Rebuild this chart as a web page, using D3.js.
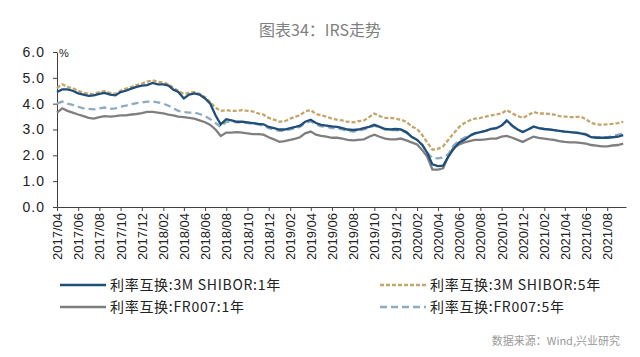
<!DOCTYPE html>
<html><head><meta charset="utf-8">
<script src="https://cdn.jsdelivr.net/npm/d3@7"></script>
<style>body{margin:0;background:#fff}svg{display:block}</style>
</head><body>
<svg id="c" width="640" height="357"></svg>
<script>
// half-monthly observation dates (month offsets from 2017/04)
const startDate = "2017-04-01";
const monthOffsets = d3.range(0, 54, 0.5);
const shibor1y = [4.45,4.55,4.55,4.5,4.4,4.35,4.3,4.32,4.38,4.42,4.35,4.32,4.45,4.5,4.58,4.65,4.7,4.72,4.8,4.75,4.75,4.7,4.55,4.45,4.2,4.35,4.4,4.35,4.2,4.0,3.55,3.2,3.4,3.35,3.3,3.3,3.28,3.25,3.22,3.2,3.1,3.05,3.0,3.0,3.05,3.1,3.15,3.3,3.38,3.25,3.18,3.15,3.12,3.1,3.05,3.0,2.98,3.0,3.05,3.1,3.18,3.1,3.02,3.0,3.02,3.0,2.9,2.72,2.6,2.4,2.1,1.65,1.58,1.6,1.95,2.25,2.5,2.6,2.75,2.85,2.9,2.95,3.02,3.05,3.15,3.35,3.15,3.0,2.9,3.0,3.12,3.05,3.02,3.0,2.98,2.95,2.92,2.9,2.88,2.85,2.8,2.7,2.68,2.68,2.68,2.7,2.72,2.78];
const shibor5y = [4.6,4.75,4.65,4.6,4.5,4.42,4.38,4.38,4.45,4.48,4.42,4.38,4.5,4.58,4.65,4.72,4.78,4.85,4.9,4.85,4.82,4.75,4.62,4.5,4.38,4.42,4.45,4.38,4.25,4.05,3.85,3.72,3.75,3.72,3.72,3.75,3.72,3.7,3.62,3.58,3.45,3.38,3.3,3.32,3.42,3.5,3.55,3.7,3.75,3.6,3.55,3.5,3.42,3.38,3.35,3.3,3.28,3.32,3.35,3.48,3.62,3.52,3.45,3.45,3.42,3.38,3.3,3.12,3.02,2.78,2.5,2.22,2.25,2.35,2.6,2.85,3.1,3.25,3.35,3.42,3.45,3.5,3.55,3.58,3.62,3.75,3.62,3.52,3.45,3.55,3.68,3.62,3.62,3.6,3.58,3.52,3.5,3.48,3.48,3.5,3.4,3.25,3.2,3.18,3.2,3.22,3.25,3.3];
const fr0071y = [3.65,3.82,3.72,3.65,3.58,3.52,3.45,3.42,3.48,3.52,3.5,3.52,3.55,3.55,3.58,3.6,3.63,3.68,3.68,3.65,3.62,3.58,3.55,3.5,3.48,3.45,3.42,3.35,3.28,3.18,3.0,2.75,2.88,2.88,2.9,2.88,2.85,2.82,2.82,2.8,2.7,2.62,2.52,2.55,2.6,2.65,2.7,2.85,2.92,2.8,2.75,2.72,2.68,2.68,2.65,2.6,2.58,2.6,2.62,2.72,2.8,2.72,2.65,2.62,2.62,2.65,2.58,2.5,2.42,2.2,1.95,1.45,1.45,1.5,1.98,2.3,2.42,2.5,2.55,2.6,2.6,2.62,2.65,2.65,2.72,2.75,2.68,2.6,2.52,2.62,2.72,2.68,2.65,2.62,2.6,2.55,2.52,2.5,2.5,2.48,2.45,2.4,2.38,2.35,2.35,2.38,2.4,2.45];
const fr0075y = [4.0,4.08,4.0,3.95,3.88,3.82,3.8,3.78,3.82,3.85,3.8,3.82,3.88,3.92,3.98,4.02,4.05,4.08,4.08,4.05,4.0,3.92,3.82,3.72,3.68,3.65,3.65,3.6,3.52,3.4,3.25,3.1,3.3,3.3,3.28,3.28,3.25,3.22,3.2,3.15,3.05,3.0,2.95,2.95,3.0,3.05,3.1,3.25,3.32,3.2,3.12,3.1,3.05,3.05,3.0,2.95,2.92,2.95,3.0,3.08,3.15,3.08,3.0,2.98,2.98,2.96,2.88,2.72,2.6,2.4,2.1,1.9,1.88,1.92,2.05,2.38,2.58,2.68,2.78,2.85,2.9,2.95,3.0,3.05,3.15,3.32,3.12,3.0,2.9,2.98,3.1,3.05,3.02,3.0,2.98,2.95,2.92,2.9,2.88,2.88,2.82,2.72,2.7,2.7,2.7,2.75,2.8,2.85];
const seriesNames = ["利率互换:3M SHIBOR:1年","利率互换:3M SHIBOR:5年","利率互换:FR007:1年","利率互换:FR007:5年"];
const yTicks = [0,1,2,3,4,5,6];
const xTickCount = 27; // 2017/04 ... 2021/08 every two months

const svg = d3.select("#c");
const t0 = d3.timeParse("%Y-%m-%d")(startDate);
const dateAt = m => { const d = d3.timeMonth.offset(t0, Math.floor(m)); return d3.timeDay.offset(d, Math.round((m%1)*30)); };
const dates = monthOffsets.map(dateAt);
const xTicks = d3.range(xTickCount).map(i => d3.timeMonth.offset(t0, i*2));

const x = d3.scaleTime().domain([t0, new Date(2021,8,24)]).range([57, 626]);
const y = d3.scaleLinear().domain([0,6]).range([207, 52]);

svg.append("text").attr("x",320).attr("y",36).attr("text-anchor","middle")
  .attr("font-family","Noto Sans CJK SC").attr("font-size",16).attr("fill","#7f7f7f").text("图表34：IRS走势");

// y axis
const ya = svg.append("g").attr("transform","translate(57,0)")
  .call(d3.axisLeft(y).tickValues(yTicks).tickFormat(d3.format(".1f")).tickSize(4).tickSizeOuter(0));
ya.select(".domain").attr("stroke","#404040");
ya.selectAll(".tick line").attr("stroke","#404040");
ya.selectAll("text").attr("font-family","Liberation Sans").attr("font-size",14).attr("fill","#222").attr("x",-12).attr("letter-spacing","1");
svg.append("text").attr("x",59).attr("y",57).attr("font-family","Liberation Sans").attr("font-size",11).attr("fill","#222").text("%");

// x axis
const xa = svg.append("g").attr("transform","translate(0,207)")
  .call(d3.axisBottom(x).tickValues(xTicks).tickFormat(d3.timeFormat("%Y/%m")).tickSize(4).tickSizeOuter(0));
xa.select(".domain").attr("stroke","#404040");
xa.selectAll(".tick line").attr("stroke","#404040");
xa.selectAll("text").attr("font-family","Liberation Sans").attr("font-size",13).attr("fill","#222")
  .attr("transform","rotate(-90)").attr("text-anchor","end").attr("x",-6).attr("y",0).attr("dy","0.35em");

const styles = [
  {c:"#1f4e79", dash:null},
  {c:"#c4a56c", dash:"4,2"},
  {c:"#7f7f7f", dash:null},
  {c:"#8fabc0", dash:"7,4"}
];
const data = [shibor1y, shibor5y, fr0071y, fr0075y];
const line = d3.line().x((d,i)=>x(dates[i])).y(d=>y(d));
const order = [2,3,1,0];
order.forEach(k=>{
  svg.append("path").datum(data[k]).attr("d",line).attr("fill","none")
    .attr("stroke",styles[k].c).attr("stroke-width",2.3).attr("stroke-dasharray",styles[k].dash);
});

// legend
const leg = [{x:60,y:285},{x:380,y:285},{x:60,y:307},{x:380,y:307}];
seriesNames.forEach((n,k)=>{
  const g = svg.append("g").attr("transform",`translate(${leg[k].x},${leg[k].y})`);
  g.append("line").attr("x1",0).attr("x2",46).attr("y1",0).attr("y2",0)
    .attr("stroke",styles[k].c).attr("stroke-width",2.5).attr("stroke-dasharray",styles[k].dash);
  g.append("text").attr("x",50).attr("y",0).attr("dy","0.35em").attr("font-family","Noto Sans CJK SC")
    .attr("font-size",14).attr("letter-spacing","0.7").attr("fill","#222").text(n);
});
svg.append("text").attr("x",620).attr("y",345).attr("text-anchor","end").attr("font-family","Noto Sans CJK SC")
  .attr("font-size",11).attr("fill","#999").text("数据来源：Wind,兴业研究");
</script>
</body></html>
